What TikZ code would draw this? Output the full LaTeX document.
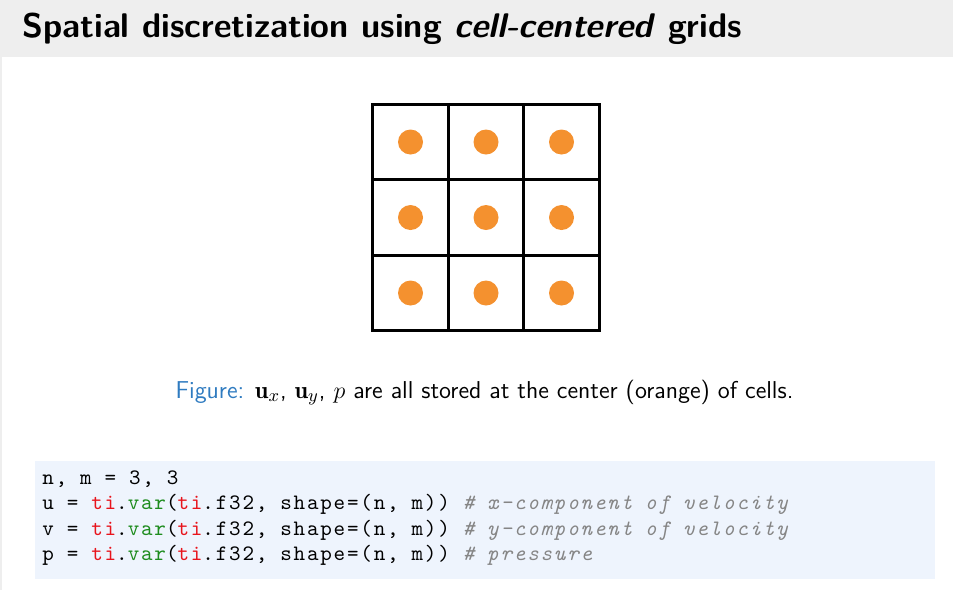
\documentclass[tikz,border=0pt]{standalone}
\usepackage{amsmath,amssymb}
\usepackage{fontspec}
\usepackage{xcolor}
\usepackage{tikz}
\usetikzlibrary{positioning,calc}

\newfontfamily\codefont{Latin Modern Mono}[LetterSpace=8.2]
\newcommand{\codesetup}{\fontsize{11}{14}\selectfont\codefont\spaceskip 6.45pt\relax}

\definecolor{headgray}{HTML}{EEEEEE}
\definecolor{codebg}{HTML}{EEF4FD}
\definecolor{dotorange}{HTML}{F4912F}
\definecolor{capblue}{HTML}{2F7BC0}
\definecolor{kwred}{HTML}{E8141C}
\definecolor{kwgreen}{HTML}{1E8C1E}
\definecolor{cmtgray}{HTML}{858585}

\newcommand{\kwti}{\textcolor{kwred}{ti}}
\newcommand{\kwvar}{\textcolor{kwgreen}{var}}
\newcommand{\cmt}[1]{\textcolor{cmtgray}{\itshape\#\ #1}}

\begin{document}
\begin{tikzpicture}[
  x=0.5pt, y=-0.5pt,
  cell/.style={rectangle, draw, line width=1.5pt, minimum size=37.75pt, inner sep=0pt},
  dot/.style={circle, fill=dotorange, minimum size=12.5pt, inner sep=0pt},
  codeline/.style={anchor=base west, inner sep=0pt, font=\codesetup},
  caption/.style={anchor=base, inner sep=0pt, font=\fontsize{12.2}{14}\selectfont\sffamily}
]
  \useasboundingbox (0,0) rectangle (953,590);

  % Title bar
  \fill[headgray] (0,0) rectangle (953,57);
  \draw[headgray, line width=0.75pt] (0.75,57) -- (0.75,590);
  \node[anchor=base west, inner sep=0pt, font=\fontsize{17.1}{20}\selectfont\sffamily\bfseries] (title) at (22,37)
    {Spatial discretization using \textit{cell-centered} grids};

  % Grid of cells
  \foreach \i in {0,1,2} {
    \foreach \j in {0,1,2} {
      \node[cell] (c\i\j) at ({410.5+75.5*\i},{142+75.5*\j}) {};
      \node[dot] (d\i\j) at (c\i\j.center) {};
    }
  }

  % Caption
  \node[caption] (cap) at (484.5,398)
    {\textcolor{capblue}{Figure:} $\mathbf{u}_x$, $\mathbf{u}_y$, $p$ are all stored at the center (orange) of cells.};

  % Code block
  \fill[codebg] (35,461) rectangle (935,579);
  \node[codeline] (l1) at (42,484) {n, m = 3, 3};
  \node[codeline] (l2) at (42,509.5) {u = \kwti.\kwvar(\kwti.f32, shape=(n, m)) \cmt{x-component of velocity}};
  \node[codeline] (l3) at (42,535) {v = \kwti.\kwvar(\kwti.f32, shape=(n, m)) \cmt{y-component of velocity}};
  \node[codeline] (l4) at (42,560.5) {p = \kwti.\kwvar(\kwti.f32, shape=(n, m)) \cmt{pressure}};
\end{tikzpicture}
\end{document}
